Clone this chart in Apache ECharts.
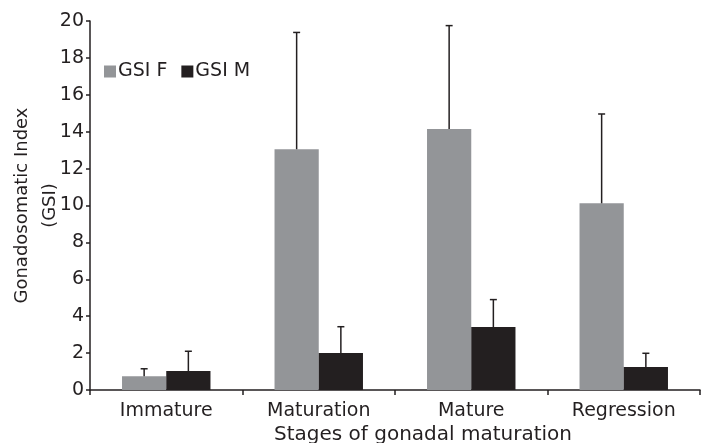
<!DOCTYPE html>
<html>
<head>
<meta charset="utf-8">
<script src="https://cdn.jsdelivr.net/npm/echarts@6/dist/echarts.min.js"></script>
<style>html,body{margin:0;padding:0;background:#fff}#c{width:701px;height:443px}</style>
</head>
<body>
<div id="c"></div>
<script>
const categories = ['Immature', 'Maturation', 'Mature', 'Regression'];
const gsiF = [0.75, 13.05, 14.15, 10.12];
const gsiM = [1.03, 2.0, 3.41, 1.25];
const sdF = [0.4, 6.33, 5.6, 4.84];
const sdM = [1.07, 1.43, 1.49, 0.74];
const yTicks = [0, 2, 4, 6, 8, 10, 12, 14, 16, 18, 20];

const FONT = '"DejaVu Sans", sans-serif';
const INK = '#231f20';
const GAP = 0.42;

function errRender(values, sds, side) {
  return function (params, api) {
    const i = api.value(0);
    const v = values[i], sd = sds[i];
    const base = api.coord([i, v]);
    const top = api.coord([i, v + sd]);
    const catW = api.size([1, 0])[0];
    const barW = catW * (1 - GAP) / 2;
    const x = base[0] + side * barW / 2;
    const cap = 3.5;
    return {
      type: 'group',
      children: [
        { type: 'line', shape: { x1: x, y1: base[1], x2: x, y2: top[1] }, style: { stroke: INK, lineWidth: 1.5 } },
        { type: 'line', shape: { x1: x - cap, y1: top[1], x2: x + cap, y2: top[1] }, style: { stroke: INK, lineWidth: 1.5 } }
      ]
    };
  };
}

const chart = echarts.init(document.getElementById('c'), null, { renderer: 'canvas' });
chart.setOption({
  animation: false,
  backgroundColor: '#fff',
  grid: { left: 90, right: 1, top: 21, bottom: 53, containLabel: false, outerBoundsMode: 'none' },
  legend: {
    left: 99, top: 57,
    itemWidth: 12, itemHeight: 12, itemGap: 14,
    icon: 'rect',
    textStyle: { fontFamily: FONT, fontSize: 19, color: INK, padding: [0, 0, 0, -3] },
    data: ['GSI F', 'GSI M']
  },
  xAxis: {
    type: 'category',
    data: categories,
    axisLine: { lineStyle: { color: INK, width: 1.5 } },
    axisTick: { show: true, alignWithLabel: false, length: 5, lineStyle: { color: INK, width: 1.5 } },
    axisLabel: { fontFamily: FONT, fontSize: 19, color: INK, margin: 12 },
    name: 'Stages of gonadal maturation',
    nameLocation: 'middle',
    nameGap: 35,
    nameMoveOverlap: false,
    nameTextStyle: { fontFamily: FONT, fontSize: 20, color: INK, padding: [0, 0, 0, 56] }
  },
  yAxis: {
    type: 'value',
    min: 0, max: 20, interval: 2,
    axisLine: { show: true, lineStyle: { color: INK, width: 1.5 } },
    axisTick: { show: true, length: 4, lineStyle: { color: INK, width: 1.5 } },
    splitLine: { show: false },
    axisLabel: { fontFamily: FONT, fontSize: 19, color: INK, margin: 6,
      formatter: function (v) { return yTicks.indexOf(v) >= 0 ? String(v) : ''; } },
    name: 'Gonadosomatic Index\n(GSI)',
    nameLocation: 'middle',
    nameGap: 26,
    nameMoveOverlap: false,
    nameRotate: 90,
    nameTextStyle: { fontFamily: FONT, fontSize: 18, color: INK, lineHeight: 28 }
  },
  series: [
    { name: 'GSI F', type: 'bar', data: gsiF, barGap: '0%', barCategoryGap: (GAP * 100) + '%',
      itemStyle: { color: '#939598' } },
    { name: 'GSI M', type: 'bar', data: gsiM, barGap: '0%', barCategoryGap: (GAP * 100) + '%',
      itemStyle: { color: INK } },
    { type: 'custom', data: categories.map((c, i) => [i]), renderItem: errRender(gsiF, sdF, -1), z: 5, silent: true },
    { type: 'custom', data: categories.map((c, i) => [i]), renderItem: errRender(gsiM, sdM, 1), z: 5, silent: true }
  ]
});
</script>
</body>
</html>
